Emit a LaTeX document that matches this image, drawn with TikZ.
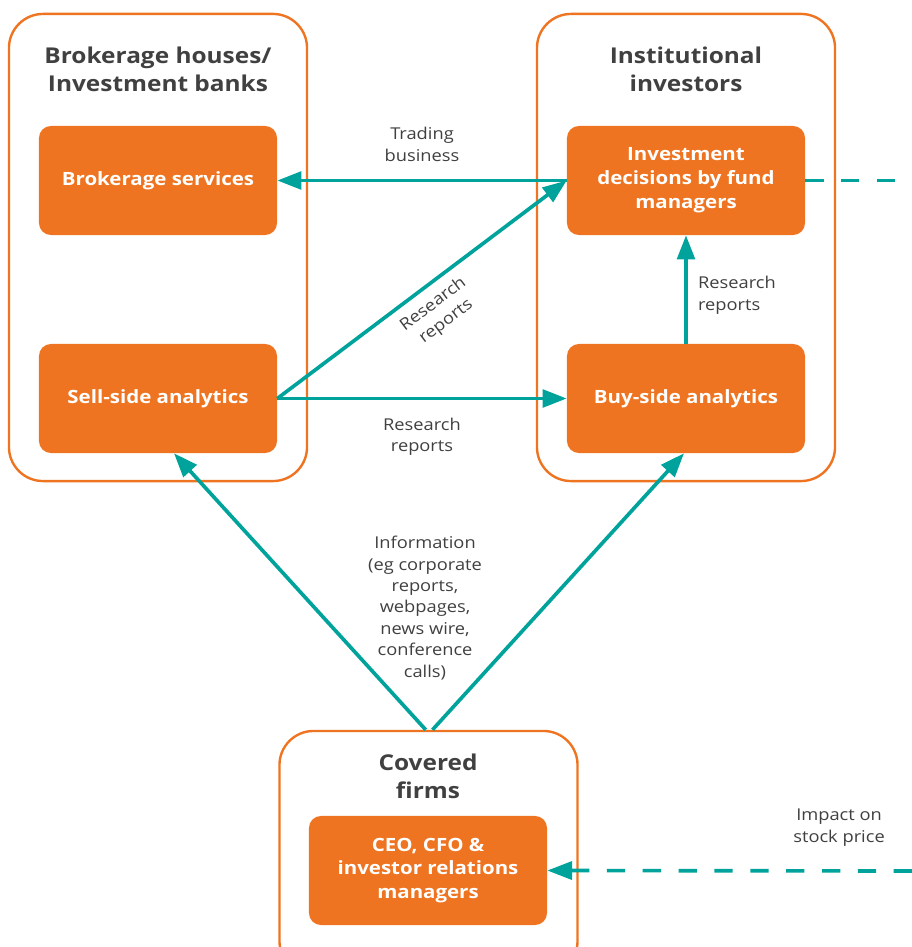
\documentclass[tikz,border=0pt]{standalone}
\usepackage{fontspec}
\setmainfont{Open Sans}[FakeStretch=1.12]
\usetikzlibrary{arrows.meta, positioning}
\definecolor{flowOrange}{HTML}{EE7421}
\definecolor{flowTeal}{HTML}{00A39B}
\definecolor{flowText}{HTML}{404040}

\begin{document}
\begin{tikzpicture}[
  x=0.025cm, y=-0.025cm,
  group/.style={draw=flowOrange, line width=1.7pt, rounded corners=0.85cm,
                minimum width=7.45cm, minimum height=11.675cm},
  heading/.style={align=center, text=flowText,
                  font=\fontsize{15.5}{20}\selectfont\bfseries},
  unit/.style={fill=flowOrange, rounded corners=0.3cm, minimum width=5.95cm,
               minimum height=2.725cm, align=center, text=white,
               font=\fontsize{13}{17}\selectfont\bfseries},
  note/.style={align=center, text=flowText, font=\fontsize{11.6}{15.2}\selectfont},
  flow/.style={-{Triangle[length=0.6cm,width=0.44cm]}, draw=flowTeal, line width=2.6pt},
  impact/.style={draw=flowTeal, line width=2.6pt, dash pattern=on 13pt off 12.5pt}
]
\useasboundingbox (0,0) rectangle (912,947);

\node[group] (brokers) at (158,247.5) {};
\node[group] (investors) at (686,247.5) {};
\node[group, minimum height=6.1cm] (firms) at (428.5,853) {};

\node[heading] (brokersTitle) at (158,69) {Brokerage houses/\\Investment banks};
\node[heading] (investorsTitle) at (686,69) {Institutional\\investors};
\node[heading] (firmsTitle) at (428,776) {Covered\\firms};

\node[unit] (brokerage) at (158,180.5) {Brokerage services};
\node[unit] (sellside) at (158,398.5) {Sell-side analytics};
\node[unit] (decisions) at (686,180.5) {Investment\\decisions by fund\\managers};
\node[unit] (buyside) at (686,398.5) {Buy-side analytics};
\node[unit] (managers) at (428,870.5) {CEO, CFO \&\\investor relations\\managers};

\coordinate (marketTop) at (912,180.5);
\coordinate (marketBottom) at (912,871);

% research and trading flows
\draw[flow] (decisions.west) -- (brokerage.east)
  node[midway, above=9pt, note] {Trading\\business};
\draw[flow] (sellside.east) -- (decisions.west)
  node[midway, sloped, below=3pt, note] {Research\\reports};
\draw[flow] (sellside.east) -- (buyside.west)
  node[midway, below=9pt, note] {Research\\reports};
\draw[flow] (buyside.north) -- (decisions.south)
  node[midway, right=4pt, yshift=-4pt, note, align=left] {Research\\reports};

% information from covered firms
\draw[flow] ([xshift=-0.07cm]firms.north) -- ([xshift=0.4cm]sellside.south);
\draw[flow] ([xshift=0.1cm]firms.north) -- ([xshift=-0.05cm]buyside.south);
\node[note] (information) at (425,608) {Information\\(eg corporate\\reports,\\webpages,\\news wire,\\conference\\calls)};

% market feedback
\draw[impact] (decisions.east) -- (marketTop);
\draw[impact, -{Triangle[length=0.62cm,width=0.45cm]}] (marketBottom) -- (managers.east)
  node[pos=0.2, above=13pt, note] {Impact on\\stock price};
\end{tikzpicture}
\end{document}
